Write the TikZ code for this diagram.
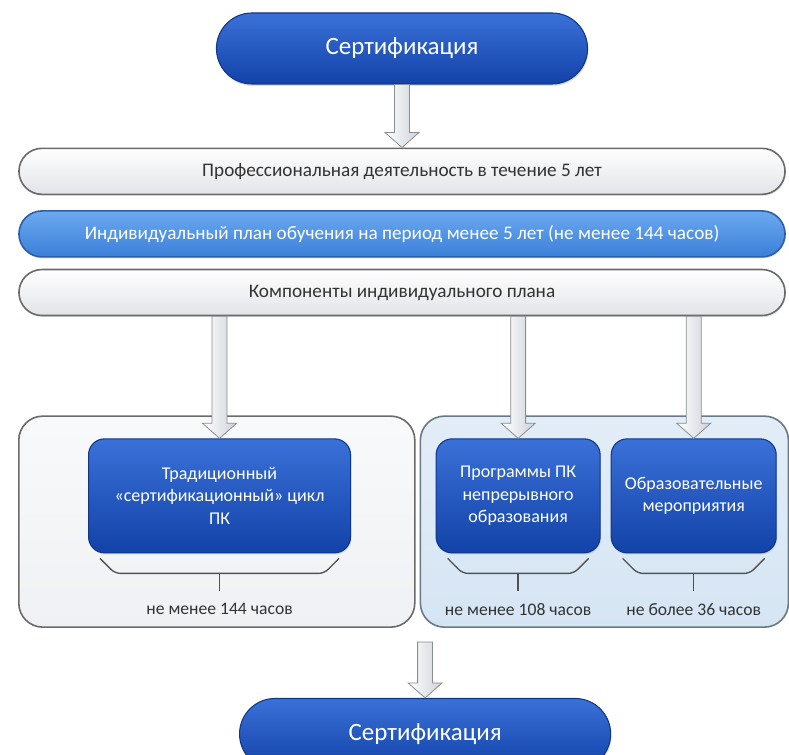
\documentclass[tikz,border=0pt]{standalone}
\usepackage{fontspec}
\setmainfont{Carlito}
\usepackage{xcolor}
\usepackage{tikz}
\usetikzlibrary{positioning}
\usetikzlibrary{calc}
\usetikzlibrary{shapes.misc}
\usetikzlibrary{shadows}

\definecolor{pilltop}{HTML}{3A71D8}
\definecolor{pillbot}{HTML}{1242A8}
\definecolor{pillline}{HTML}{0E3787}
\definecolor{bargrey}{HTML}{E2E4E8}
\definecolor{barline}{HTML}{6A6A6A}
\definecolor{bartext}{HTML}{333333}
\definecolor{lighttop}{HTML}{6CA9F0}
\definecolor{lightbot}{HTML}{3A7FD9}
\definecolor{lightline}{HTML}{2E5EA6}
\definecolor{leftfill}{HTML}{EFF1F4}
\definecolor{rightfill}{HTML}{D6E5F4}
\definecolor{rightline}{HTML}{6B7886}
\definecolor{arrowfill}{HTML}{CDD2D9}
\definecolor{arrowline}{HTML}{8A8D92}
\definecolor{bracegrey}{HTML}{4E5258}

\tikzset{
  certpill/.style={rounded rectangle, minimum width=285pt, minimum height=53.25pt,
    top color=pilltop, bottom color=pillbot, draw=pillline, line width=0.8pt,
    text=white, font=\fontsize{18.7}{22}\selectfont,
    drop shadow={shadow xshift=0.6pt, shadow yshift=-1.5pt, opacity=0.25}},
  greybar/.style={rounded rectangle, minimum width=581.25pt, minimum height=34.5pt,
    top color=white, bottom color=bargrey, draw=barline, line width=1.2pt,
    text=bartext, font=\fontsize{14.4}{16}\selectfont,
    drop shadow={shadow xshift=0.6pt, shadow yshift=-1.2pt, opacity=0.2}},
  bluebar/.style={greybar, top color=lighttop, bottom color=lightbot,
    draw=lightline, text=white},
  grouparea/.style={rounded corners=18pt, minimum height=158.25pt,
    line width=1.2pt, inner sep=0pt},
  itembox/.style={rounded corners=12pt, minimum height=85.5pt, inner sep=1pt,
    top color=pilltop, bottom color=pillbot, draw=pillline, line width=0.8pt,
    text=white, align=center, font=\fontsize{13.5}{16.9}\selectfont,
    drop shadow={shadow xshift=0.6pt, shadow yshift=-1.2pt, opacity=0.25}},
  hourbrace/.style={draw=bracegrey, line width=1pt, rounded corners=4pt},
  hourlabel/.style={text=bartext, font=\fontsize{13.2}{15}\selectfont, inner sep=0pt},
  hollow/.style={draw=arrowline, line width=0.6pt, left color=white, right color=arrowfill,
    to path={([xshift=-5.6pt]\tikztostart) -- ([xshift=-5.6pt,yshift=11.25pt]\tikztotarget)
      -- ([xshift=-12.75pt,yshift=11.25pt]\tikztotarget) -- (\tikztotarget)
      -- ([xshift=12.75pt,yshift=11.25pt]\tikztotarget) -- ([xshift=5.6pt,yshift=11.25pt]\tikztotarget)
      -- ([xshift=5.6pt]\tikztostart) -- cycle}}
}

\begin{document}
\begin{tikzpicture}[x=0.75pt, y=-0.75pt]
\useasboundingbox (0,0) rectangle (789,755);
\clip (0,0) rectangle (789,755);
\node[certpill] (certtop) at (402,48.5) {Сертификация};
\node[greybar, below=47.25pt of certtop] (bar1) {Профессиональная деятельность в течение 5 лет};
\node[bluebar, below=11.25pt of bar1] (bar2) {Индивидуальный план обучения на период менее 5 лет (не менее 144 часов)};
\node[greybar, below=8.25pt of bar2] (bar3) {Компоненты индивидуального плана};
%%%%%%%%%%%%%%%%%%%%%%%%%%%%%%%%%%%%%
\coordinate[left=288pt of bar3.south] (c3);
\node[grouparea, minimum width=297pt, top color=leftfill!40!white, bottom color=leftfill, draw=barline,
  below right=74.25pt and 0pt of c3] (lcont) {};
\node[grouparea, minimum width=276pt, top color=rightfill!70!white, bottom color=rightfill, draw=rightline,
  right=3pt of lcont] (rcont) {};
%%%%%%%%%%%%%%
\node[itembox, minimum width=196.5pt, below right=17.25pt and 52.5pt of lcont.north west] (inL)
  {Традиционный\\«сертификационный» цикл\\ПК};
\node[itembox, minimum width=123pt, below right=17.25pt and 12pt of rcont.north west] (inR1)
  {Программы ПК\\непрерывного\\образования};
\node[itembox, minimum width=123.75pt, right=7.5pt of inR1] (inR2)
  {Образовательные\\мероприятия};
%%%%%%%%%%%%%%
\coordinate[below right=3.75pt and 9pt of inL.south west] (bL1);
\coordinate[below right=11.25pt and 11.25pt of bL1] (bL2);
\coordinate[below left=3.75pt and 9pt of inL.south east] (bL4);
\coordinate[below left=11.25pt and 11.25pt of bL4] (bL3);
\coordinate (tL0) at ($(bL2)!0.5!(bL3)$);
\coordinate[below=13.5pt of tL0] (tL1);
%%%%%%%%%%%%%%
\coordinate[below right=3.75pt and 9pt of inR1.south west] (bA1);
\coordinate[below right=11.25pt and 11.25pt of bA1] (bA2);
\coordinate[below left=3.75pt and 9pt of inR1.south east] (bA4);
\coordinate[below left=11.25pt and 11.25pt of bA4] (bA3);
\coordinate (tA0) at ($(bA2)!0.5!(bA3)$);
\coordinate[below=13.5pt of tA0] (tA1);
%%%%%%%%%%%%%%
\coordinate[below right=3.75pt and 9pt of inR2.south west] (bB1);
\coordinate[below right=11.25pt and 11.25pt of bB1] (bB2);
\coordinate[below left=3.75pt and 9pt of inR2.south east] (bB4);
\coordinate[below left=11.25pt and 11.25pt of bB4] (bB3);
\coordinate (tB0) at ($(bB2)!0.5!(bB3)$);
\coordinate[below=13.5pt of tB0] (tB1);
%%%%%%%%%%%%%%
\node[hourlabel, below=9pt of tL1] (hL) {не менее 144 часов};
\node[hourlabel, below=9pt of tA1] (hA) {не менее 108 часов};
\node[hourlabel, below=9pt of tB1] (hB) {не более 36 часов};
%%%%%%%%%%%%%%%%%%%%%%%%%%%%%%%%%%%%%
\node[certpill, below=52.5pt of lcont.south east, xshift=7.125pt] (certbot) {Сертификация};
%%%%%%%%%%%%%%%%%%%%%%%%%%%%%%%%%%%%%
\coordinate (a0) at (certtop.south);
\coordinate (sL) at (bar3.south -| inL.north);
\coordinate (sA) at (bar3.south -| inR1.north);
\coordinate (sB) at (bar3.south -| inR2.north);
\coordinate[above=42pt of certbot.north] (b0);

\draw[hollow] (a0) to (a0 |- bar1.north);
\draw[hollow] (sL) to (inL.north);
\draw[hollow] (sA) to (inR1.north);
\draw[hollow] (sB) to (inR2.north);
\draw[hollow] (b0) to (certbot.north);
%%%%%%%%%%
\draw[hourbrace] (bL1) -- (bL2) -- (bL3) -- (bL4);
\draw[hourbrace] (tL0) -- (tL1);
\draw[hourbrace] (bA1) -- (bA2) -- (bA3) -- (bA4);
\draw[hourbrace] (tA0) -- (tA1);
\draw[hourbrace] (bB1) -- (bB2) -- (bB3) -- (bB4);
\draw[hourbrace] (tB0) -- (tB1);
\end{tikzpicture}
\end{document}
